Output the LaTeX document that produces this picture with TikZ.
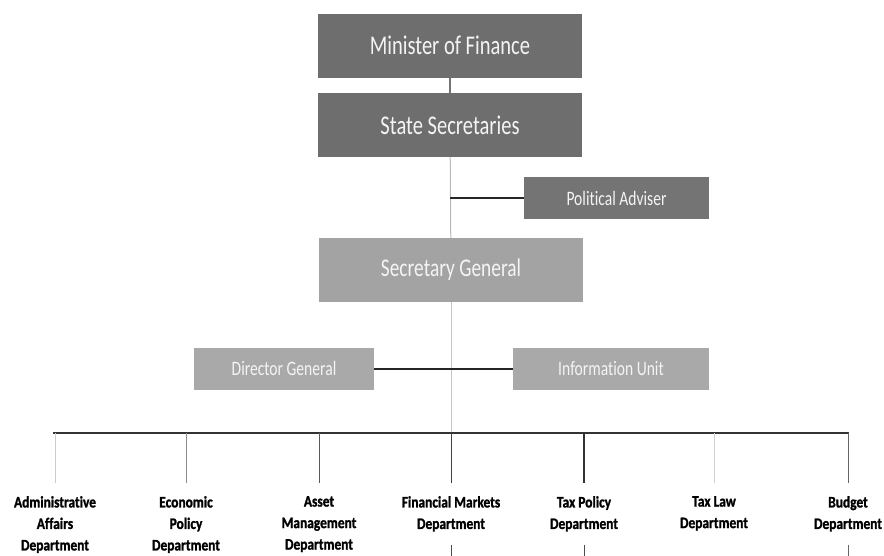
\documentclass[tikz,border=0pt]{standalone}
\usepackage{fontspec}
\newfontfamily\boxfont[FakeStretch=0.76, Ligatures=NoCommon]{Carlito}
\newfontfamily\deptfont[FakeStretch=0.84, Ligatures=NoCommon, BoldFeatures={FakeBold=1.3}]{Carlito}
\definecolor{boxdark}{HTML}{6E6E6E}
\definecolor{boxpa}{HTML}{747474}
\definecolor{boxmid}{HTML}{A3A3A3}
\definecolor{boxlight}{HTML}{A9A9A9}
\definecolor{boxtext}{HTML}{F4F4F4}
\tikzset{
  topbox/.style={fill=boxdark, text=boxtext, minimum width=264pt, minimum height=64pt,
    inner sep=0pt, font=\boxfont\fontsize{27}{30}\selectfont},
  midbox/.style={fill=boxmid, text=boxtext, minimum width=264pt, minimum height=64pt,
    inner sep=0pt, font=\boxfont\fontsize{25.5}{28}\selectfont},
  sidebox/.style={text=boxtext, minimum height=42pt, inner sep=0pt,
    font=\boxfont\fontsize{20.5}{24}\selectfont},
  dept/.style={anchor=north, align=center, inner xsep=0pt, inner ysep=13pt, text=black,
    font=\deptfont\bfseries\fontsize{16}{21.5}\selectfont},
  thinline/.style={draw=#1, line width=1pt},
  heavyline/.style={draw=black!85, line width=2pt},
}
\begin{document}
\begin{tikzpicture}[x=1pt, y=-1pt]
  \useasboundingbox (0,0) rectangle (884,555);

  % upper chain of offices
  \node[topbox] (mf) at (450,45.5) {Minister of Finance};
  \node[topbox] (ss) at (450,125) {State Secretaries};
  \node[sidebox, fill=boxpa, minimum width=185pt] (pa) at (616.5,198) {Political Adviser};
  \node[midbox] (sg) at (451,270) {Secretary General};
  \node[sidebox, fill=boxlight, minimum width=180pt] (dg) at (284,368.5) {Director General};
  \node[sidebox, fill=boxlight, minimum width=196pt] (iu) at (611,368.5) {Information Unit};

  % departments
  \node[dept] (d1) at (55,483)  {Administrative\\Affairs\\Department};
  \node[dept] (d2) at (186,483) {Economic\\Policy\\Department};
  \node[dept] (d3) at (319,483) {Asset\\Management\\Department};
  \node[dept] (d4) at (451,483) {Financial Markets\\Department};
  \node[dept] (d5) at (584,483) {Tax Policy\\Department};
  \node[dept] (d6) at (714,483) {Tax Law\\Department};
  \node[dept] (d7) at (848,483) {Budget\\Department};

  % bus bar and page edge
  \coordinate (barL) at (53,433);
  \coordinate (barR) at (849,433);
  \coordinate (edge) at (0,556);

  % vertical spine
  \draw[thinline=black!55, line width=1.3pt] (mf) -- (ss);
  \draw[thinline=black!28] (ss) -- (sg);
  \draw[thinline=black!22] (sg) -- (sg.south |- barL);

  % side branches
  \draw[heavyline] (pa.west) -- (pa.west -| ss.south);
  \draw[heavyline] (dg) -- (iu);

  % department bar and drops
  \draw[heavyline, draw=black!80] (barL) -- (barR);
  \draw[thinline=black!20] (d1.north |- barL) -- (d1.north);
  \draw[thinline=black!45] (d2.north |- barL) -- (d2.north);
  \draw[thinline=black!65] (d3.north |- barL) -- (d3.north);
  \draw[thinline=black!75] (d4.north |- barL) -- (d4.north);
  \draw[thinline=black!80, line width=1.4pt] (d5.north |- barL) -- (d5.north);
  \draw[thinline=black!18] (d6.north |- barL) -- (d6.north);
  \draw[thinline=black!60] (d7.north |- barL) -- (d7.north);

  % lines running on below the page edge
  \draw[thinline=black!70] (d4.south) -- (d4.south |- edge);
  \draw[thinline=black!70] (d5.south) -- (d5.south |- edge);
  \draw[thinline=black!60] (d7.south) -- (d7.south |- edge);
\end{tikzpicture}
\end{document}
